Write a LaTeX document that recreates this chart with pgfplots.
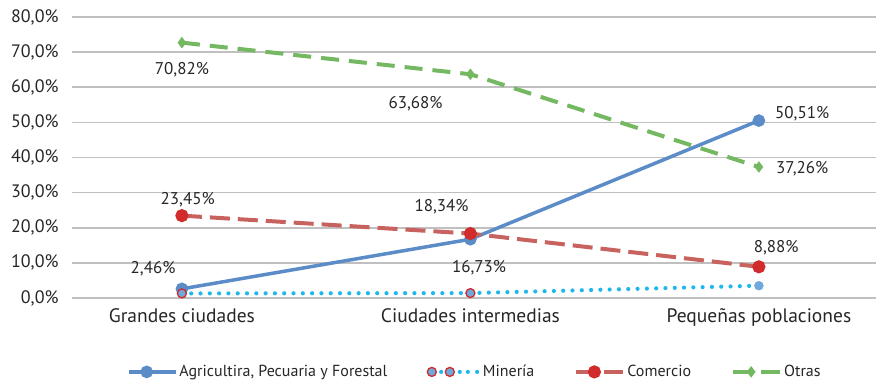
\documentclass[border=0pt]{standalone}
\usepackage{pgfplots}
\pgfplotsset{compat=1.18}
\usepackage{fontspec}
\setmainfont{PT Sans}
\definecolor{cAgr}{HTML}{5B8CC8}
\definecolor{cMinL}{HTML}{20B8EC}
\definecolor{cMinF}{HTML}{6FA8DC}
\definecolor{cComL}{HTML}{C8625E}
\definecolor{cComM}{HTML}{D22B2B}
\definecolor{cOtr}{HTML}{74B862}
\definecolor{cGrid}{HTML}{C0C0C0}
\definecolor{cTxt}{HTML}{262626}
\begin{document}
\begin{tikzpicture}[font=\fontsize{17bp}{20bp}\selectfont, text=cTxt]
\useasboundingbox (0,0) rectangle (876bp,382bp);
\begin{axis}[
  at={(72bp,84bp)}, anchor=south west,
  scale only axis, width=804bp, height=281bp,
  xmin=-0.381, xmax=2.406, ymin=0, ymax=80,
  xtick={0,1,2}, xticklabels={Grandes ciudades,Ciudades intermedias,Pequeñas poblaciones},
  ytick={0,10,...,80},
  yticklabel={\pgfmathprintnumber[fixed,fixed zerofill,precision=1,use comma]{\tick}\%},
  /pgf/number format/assume math mode=true,
  axis line style={draw=none},
  major tick length=0pt,
  ymajorgrids, grid style={cGrid, line width=1.6bp},
  yticklabel style={xshift=-10bp, text=cTxt, font=\fontsize{18bp}{21bp}\selectfont},
  xticklabel style={yshift=-7bp, text=cTxt, font=\fontsize{19.5bp}{23bp}\selectfont},
  clip=false,
  legend columns=4,
  legend style={draw=none, fill=none, at={(0.501,-0.263)}, anchor=center,
    font=\fontsize{16bp}{19bp}\selectfont, text=cTxt,
    /tikz/every even column/.style={column sep=38bp}},
  legend cell align=left,
  legend image code/.code={\draw[mark repeat=2,mark phase=2,#1] plot coordinates {(0bp,0bp) (18bp,0bp) (36bp,0bp)};
    \path (36bp,0bp) -- (47bp,0bp);},
]
\addplot[cAgr, line width=3.5bp, mark=*, mark size=4.5bp, mark options={solid, fill=cAgr, draw=cAgr}]
  coordinates {(0,2.6) (1,16.73) (2,50.51)};
\addlegendentry{Agricultira, Pecuaria y Forestal}
\addplot[cMinL, line width=4.2bp, line cap=round, dash pattern=on 0bp off 9.3bp,
  mark=*, mark size=4.5bp, mark indices={1,2}, mark options={solid, fill=cMinF, draw=cComM, line width=1.3bp}]
  coordinates {(0,1.3) (1,1.4) (2,3.5)};
\addlegendentry{Minería}
\addplot[forget plot, only marks, mark=*, mark size=4.5bp, mark options={fill=cMinF, draw=cMinF}]
  coordinates {(2,3.5)};
\addplot[cComL, line width=4bp, dash pattern=on 20bp off 8bp,
  mark=*, mark size=4.5bp, mark options={solid, fill=cComM, draw=cComM}]
  coordinates {(0,23.45) (1,18.34) (2,8.88)};
\addlegendentry{Comercio}
\addplot[cOtr, line width=4bp, dash pattern=on 18bp off 10bp,
  mark=diamond*, mark size=2.5bp, mark options={solid, fill=cOtr, draw=cOtr}]
  coordinates {(0,72.7) (1,63.7) (2,37.3)};
\addlegendentry{Otras}
\node at (axis cs:0,65) {70,82\%};
\node at (axis cs:0.81,55.2) {63,68\%};
\node at (axis cs:2.15,52.6) {50,51\%};
\node at (axis cs:2.15,36.7) {37,26\%};
\node at (axis cs:0.02,27.9) {23,45\%};
\node at (axis cs:0.9,25.9) {18,34\%};
\node at (axis cs:1.03,8.6) {16,73\%};
\node at (axis cs:-0.1,8.3) {2,46\%};
\node at (axis cs:2.06,14.2) {8,88\%};
\end{axis}
\end{tikzpicture}
\end{document}
